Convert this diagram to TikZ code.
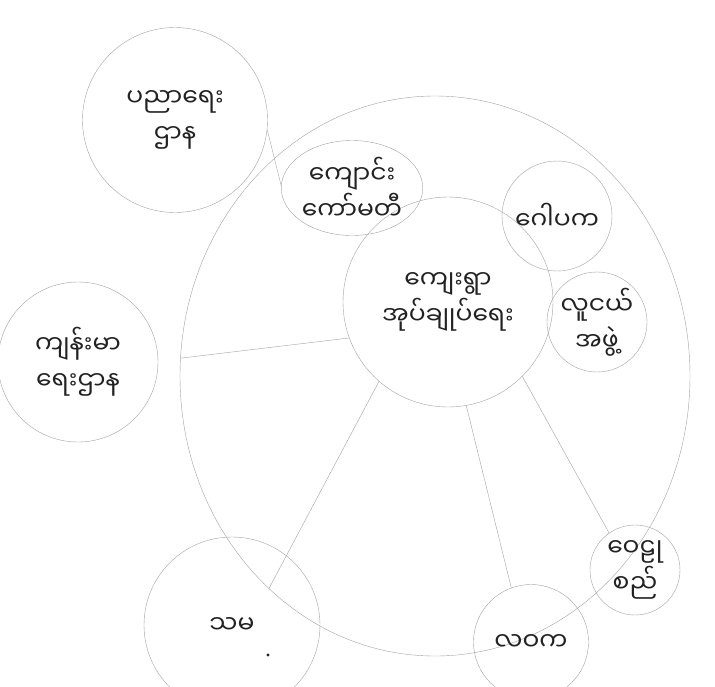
\documentclass[tikz,border=0pt]{standalone}
\usepackage{fontspec}
\newfontfamily\mmfont[Script=Myanmar]{Noto Sans Myanmar UI}
\usetikzlibrary{positioning,shapes.geometric}
\definecolor{pencil}{HTML}{A3A3A3}
\definecolor{ink}{HTML}{222222}
\tikzset{bubble/.style={circle,draw=pencil,thin,inner sep=0pt,align=center,
    text=ink,font=\mmfont\fontsize{25}{36}\selectfont},
  ring/.style={ellipse,draw=pencil,thin,inner sep=0pt},
  spoke/.style={draw=pencil,thin}}

\begin{document}
\begin{tikzpicture}[x=1pt,y=-1pt]
\useasboundingbox[fill=white] (0,0) rectangle (715,686);
\node[ring,minimum width=510,minimum height=560] (ring) at (435,376) {};
\node[bubble,minimum size=210] (hub) at (448,302) {ကျေးရွာ\\အုပ်ချုပ်ရေး};
\node[bubble,minimum size=185] (edu) at (175,120) {ပညာရေး\\ဌာန};
\node[bubble,ellipse,minimum width=125,minimum height=95] (school) at (352,188) {ကျောင်း\\ကော်မတီ};
\node[bubble,minimum size=110] (gopaka) at (557,216) {ဂေါပက};
\node[bubble,minimum size=100] (youth) at (597,322) {လူငယ်\\အဖွဲ့};
\node[bubble,minimum size=160] (health) at (78,362) {ကျန်းမာ\\ရေးဌာန};
\node[bubble,minimum size=90] (welu) at (635,570) {ဝေဠု\\စည်};
\node[bubble,minimum size=115] (lwk) at (531,642) {လဝက};
\node[bubble,minimum size=176] (sama) at (232,625) {သမ};
\fill[ink] (268,655) circle (1.6);

\draw[spoke] (edu.-6) -- (school.178);
\draw[spoke] (hub.200) -- (ring.176);
\draw[spoke] (hub.229) -- (ring.232);
\draw[spoke] (hub.280) -- (lwk.110);
\draw[spoke] (hub.315) -- (welu.125);
\end{tikzpicture}
\end{document}
